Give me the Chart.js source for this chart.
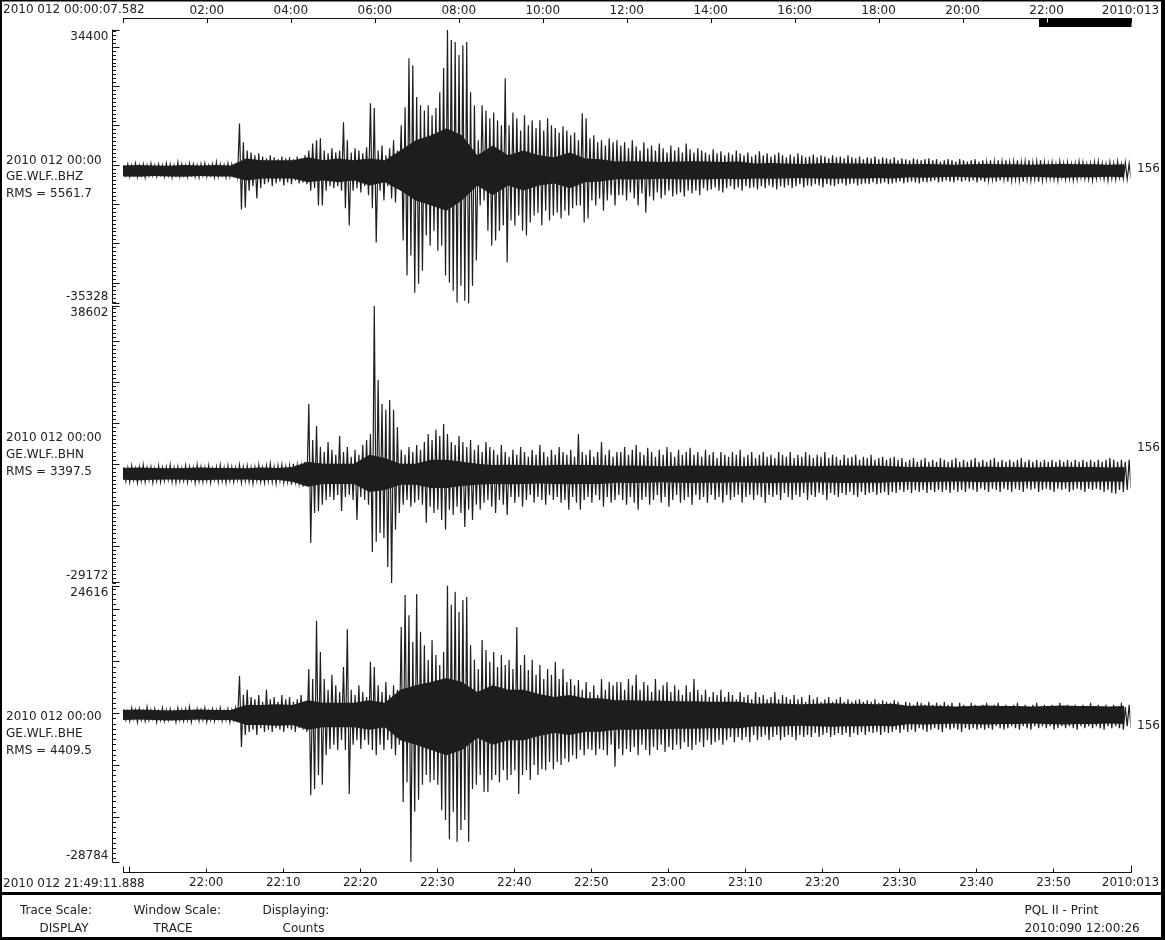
<!DOCTYPE html>
<html><head><meta charset="utf-8">
<script src="https://cdn.jsdelivr.net/npm/chart.js@4.4.0/dist/chart.umd.min.js"></script>
<style>
html,body{margin:0;padding:0;background:#fff;}
#wrap{position:relative;width:1165px;height:940px;overflow:hidden;font-family:'DejaVu Sans',sans-serif;font-size:12px;color:#222;}
#c{position:absolute;left:0;top:0;}
.t{position:absolute;white-space:nowrap;line-height:14px;}
</style></head><body>
<div id="wrap">
<canvas id="c" width="1165" height="940"></canvas>
<div class="t" style="left:3px;top:2px">2010 012 00:00:07.582</div>
<div class="t" style="left:3px;top:875.5px">2010 012 21:49:11.888</div>
<div class="t" style="left:6px;top:152.5px">2010 012 00:00</div>
<div class="t" style="left:6px;top:169px">GE.WLF..BHZ</div>
<div class="t" style="left:6px;top:185.5px">RMS = 5561.7</div>
<div class="t" style="left:6px;top:430px">2010 012 00:00</div>
<div class="t" style="left:6px;top:447px">GE.WLF..BHN</div>
<div class="t" style="left:6px;top:463.5px">RMS = 3397.5</div>
<div class="t" style="left:6px;top:709px">2010 012 00:00</div>
<div class="t" style="left:6px;top:726px">GE.WLF..BHE</div>
<div class="t" style="left:6px;top:742.5px">RMS = 4409.5</div>
<div class="t" style="left:1137px;top:161px">156</div>
<div class="t" style="left:1137px;top:440px">156</div>
<div class="t" style="left:1137px;top:718px">156</div>
<div class="t" style="left:20px;top:903px">Trace Scale:</div>
<div class="t" style="left:39.5px;top:920.5px">DISPLAY</div>
<div class="t" style="left:133.5px;top:903px">Window Scale:</div>
<div class="t" style="left:153.5px;top:920.5px">TRACE</div>
<div class="t" style="left:262.5px;top:903px">Displaying:</div>
<div class="t" style="left:282.5px;top:920.5px">Counts</div>
<div class="t" style="left:1024.5px;top:903px">PQL II - Print</div>
<div class="t" style="left:1024.5px;top:920.5px">2010:090 12:00:26</div>
</div>
<script>
// ---- time base (minutes since 2010 012 00:00) ----
const startMinute = 1309.198;   // 21:49:11.888
const endMinute = 1440;         // 2010:013 00:00
const dayStartMinute = 0.12637; // 00:00:07.582
const binMinutes = 0.5;         // peak bins: one positive and one negative peak each
const coreMinutes = 2;          // dense-core envelope sampling

// ---- tick values and labels ----
const bottomTicks = [1320,1330,1340,1350,1360,1370,1380,1390,1400,1410,1420,1430,1440];
const bottomTickLabels = ['22:00','22:10','22:20','22:30','22:40','22:50','23:00','23:10','23:20','23:30','23:40','23:50','2010:013'];
const bottomMinorTicks = [1310];
const topTicks = [120,240,360,480,600,720,840,960,1080,1200,1320,1440];
const topTickLabels = ['02:00','04:00','06:00','08:00','10:00','12:00','14:00','16:00','18:00','20:00','22:00','2010:013'];

// ---- panel ranges (counts) ----
const panelMax = [34400, 38602, 24616];
const panelMin = [-35328, -29172, -28784];

// ---- GE.WLF..BHZ peaks (counts) ----
const bhzMax = [
-200,100,-200,300,-200,100,-200,300,-200,100,
-200,300,100,-200,600,100,-200,300,100,-200,
100,300,-200,100,600,100,-200,300,100,-200,
10500,5700,3600,3100,2400,2900,2100,1600,2400,1900,
1400,2100,1600,1900,1400,2100,1600,2400,3600,5400,
6200,6700,3600,2900,4200,3100,3600,10800,6200,3100,
4200,3600,2900,4400,15600,14400,3600,4900,2400,4200,
6200,3600,10000,14600,27100,25300,17200,15100,13800,15100,
12600,14400,18400,24600,34300,31700,31200,27900,30400,31200,
18400,15100,6200,15100,13800,11800,13300,11300,10000,22000,
10000,13300,11800,8700,12600,10000,11300,9300,11300,8700,
11800,10000,9300,8200,9800,8700,7500,8200,6200,13100,
11800,6700,7500,5700,6200,4900,6700,5700,6200,4900,
5700,4200,6200,4700,3600,5700,4200,4900,3600,5400,
4200,3100,4900,3600,4400,3100,5400,3900,3100,4200,
3600,3100,2600,3900,2900,3400,2400,3100,2600,3600,
2900,2400,3100,2100,2600,3400,2400,2900,2100,2600,
3100,2400,1900,2600,2100,2900,2400,1900,2100,2600,
1900,2400,2100,1600,2400,1900,2100,1600,2400,1900,
1600,2100,1400,1900,1600,2100,1400,1900,1600,1400,
1900,1100,1600,1400,1100,1600,1400,1100,1400,1600,
1100,1400,800,1100,1400,1100,800,1400,1100,800,
1100,1400,800,1100,600,1100,800,1100,800,1100,
600,800,1100,600,800,1100,600,800,1100,600,
300,600,100,800,300,600,100,300,800,600,
100,300,600,800,300,100,600,300,800,100,600,300];
const bhzMin = [
-2700,-3000,-2500,-3000,-2700,-3200,-2700,-2700,-3000,-2500,
-3000,-2700,-3200,-2700,-3000,-2700,-3000,-2500,-3000,-3200,
-2700,-3000,-2700,-3200,-3000,-2700,-3200,-3000,-2700,-3000,
-11400,-10900,-6600,-5500,-8600,-6000,-5000,-4500,-5500,-4800,
-4300,-5300,-4500,-5000,-4000,-4800,-4500,-5000,-6600,-6000,
-10400,-10400,-6600,-5500,-6000,-5500,-6600,-11100,-15500,-6600,
-6000,-7100,-5500,-7800,-11100,-19800,-6600,-9100,-5500,-8600,
-9600,-6000,-19300,-28200,-23100,-32600,-30300,-27000,-18000,-20600,
-16800,-21900,-20600,-28200,-30000,-32100,-35100,-30800,-34600,-35300,
-30800,-24400,-10400,-9100,-16800,-20600,-19300,-16800,-15500,-24900,
-14200,-15500,-12900,-16800,-18000,-14700,-12900,-12200,-15500,-11700,
-14200,-12900,-12200,-13700,-11700,-12900,-11100,-10400,-10400,-14700,
-13700,-9100,-10400,-8600,-11700,-9100,-7800,-10400,-7800,-7800,
-9100,-7100,-8600,-10400,-7300,-12200,-8100,-9100,-7100,-8600,
-7800,-6600,-8100,-7600,-7100,-8100,-6600,-7300,-6600,-7800,
-6000,-6600,-6300,-5800,-6600,-7100,-6000,-5500,-6300,-5800,
-6600,-5500,-6000,-5800,-6300,-5500,-6000,-5300,-5800,-6300,
-5500,-5800,-5300,-6000,-5500,-5000,-5800,-5300,-5500,-5000,
-5300,-5800,-5000,-5300,-5500,-5000,-4800,-5300,-5000,-4800,
-5300,-5000,-4800,-5000,-4500,-5000,-4800,-4500,-5000,-4800,
-4500,-4300,-4800,-4500,-4300,-4500,-4800,-4300,-4500,-4300,
-4000,-4500,-4300,-4000,-4300,-4500,-4000,-4300,-4000,-4300,
-4000,-4500,-4000,-4300,-4000,-3700,-4300,-4000,-3700,-4300,
-4000,-3700,-4000,-4300,-3700,-4000,-3700,-4300,-4000,-3700,
-3500,-3700,-4000,-3200,-3700,-3500,-4000,-3700,-3200,-3500,
-3700,-4000,-3500,-3200,-3700,-4000,-3500,-3700,-3200,-3500,-3700,-3500];
// solid (dense) core of BHZ, every 2 min
const bhzCoreUp = [
-200,-100,-200,-300,-100,-200,-100,-200,
1600,1100,1100,1100,
1900,1100,1600,1100,1600,1100,
3600,6200,7500,9300,7500,2400,
4900,2400,3600,2400,1900,3100,1600,1400,
800,900,800,700,800,900,800,700,800,
300,400,300,200,300,400,300,300,200,300,
100,200,100,0,100,200,100,100,0,100,200,100,100,0,100];
const bhzCoreDn = [
-3000,-3100,-2900,-3000,-3100,-2900,-3000,-3000,
-4000,-3500,-3500,-3500,
-4500,-4000,-4500,-4000,-5300,-4500,
-6600,-9100,-10400,-11700,-9100,-5300,
-7800,-5300,-6600,-5300,-4800,-6000,-4500,-4300,
-3700,-3800,-3700,-3600,-3700,-3800,-3700,-3600,-3700,
-3500,-3600,-3500,-3400,-3500,-3600,-3500,-3500,-3400,-3500,
-3200,-3300,-3200,-3100,-3200,-3300,-3200,-3200,-3100,-3200,-3300,-3200,-3200,-3100,-3200];

// ---- GE.WLF..BHN peaks (counts) ----
const bhnMax = [
-800,-1000,-500,-1200,-800,-300,-1000,-800,-1200,-500,
-1000,-800,-300,-1000,-800,-1200,-500,-800,-1000,-300,
-800,-1000,-500,-1200,-800,-300,-1000,-500,-800,-1000,
-300,-800,-500,-1000,-800,-300,-1000,-500,0,-800,
-500,-300,-800,-500,0,-300,-500,500,14600,5800,
9200,4100,2900,5300,3400,2200,6800,2900,4100,1700,
3400,2200,4600,5800,7300,38500,20500,14600,13200,15600,
13200,9000,3400,2200,4100,2900,4600,3400,5300,7300,
5800,8300,6800,9700,7300,5300,4600,6800,5300,4100,
5800,3400,4600,2900,5300,4100,3400,2200,4600,2900,
1700,3400,2200,4100,2900,1700,3400,2200,4600,2900,
1700,3400,2200,4100,2900,2200,3400,1700,7300,2900,
2200,3400,1700,2900,5300,2200,3400,1700,2900,2900,
4100,2200,3400,4600,2900,2200,3900,2900,1700,3400,
2200,4100,2900,1700,3400,2200,2900,3900,2200,2900,
1700,3400,2200,2900,1400,2900,2200,1700,2900,2200,
3400,1700,2200,2900,1400,2200,2900,1700,2200,1400,
2900,2200,1700,2900,1400,2200,1700,2900,2200,1400,
2200,1700,2900,1400,2200,1700,1000,2200,1400,1700,
2200,1000,1700,1400,2200,1000,1400,1700,1000,1400,
1700,1000,1400,500,1000,1400,500,1000,1400,500,
1000,500,1400,1000,500,1000,1400,500,1000,500,
1000,1400,500,1000,500,1000,1400,500,1000,500,
1000,500,1000,1400,500,1000,500,1000,500,1000,
500,1000,500,1000,500,1000,500,1000,500,1000,
500,1000,500,1000,500,1000,1400,1000,500,1000,500,1000];
const bhnMin = [
-4200,-4400,-3900,-4600,-4100,-4400,-3900,-4600,-4200,-4400,
-4100,-3900,-4400,-4600,-4200,-4100,-4400,-3900,-4600,-4200,
-4400,-4100,-4600,-3900,-4400,-4200,-4600,-4100,-4400,-3900,
-4600,-4200,-4400,-4800,-4100,-4400,-4600,-4200,-4400,-4800,
-4100,-4600,-4400,-5100,-4400,-4800,-5600,-5100,-19300,-12000,
-11500,-10000,-8800,-8100,-8800,-7600,-11500,-8100,-7600,-8800,
-13700,-8100,-8800,-10000,-21500,-19000,-16900,-18100,-25200,-29100,
-16100,-12000,-10000,-8800,-10500,-9500,-8800,-10000,-14400,-10500,
-12000,-11200,-13700,-16100,-11200,-12500,-10500,-12000,-15400,-11200,
-13700,-10000,-11200,-9500,-8800,-10500,-12000,-8800,-10000,-12500,
-8100,-9500,-8100,-10500,-8800,-7600,-9500,-8100,-8800,-10000,
-7600,-8800,-8100,-9500,-8800,-11200,-8100,-9500,-11200,-8800,
-8100,-9500,-7600,-8800,-10500,-8100,-9500,-8800,-7600,-8800,
-10000,-8100,-9500,-11200,-8800,-8100,-10000,-8800,-7600,-9500,
-8100,-10500,-8800,-7600,-9500,-8800,-8100,-10000,-7600,-8800,
-8100,-9500,-7600,-8800,-8100,-9500,-7600,-8800,-8100,-7600,
-9500,-8100,-7600,-8800,-7600,-8100,-9500,-7600,-8100,-7600,
-8800,-7100,-8100,-8800,-7600,-8100,-7100,-8800,-7600,-8100,
-7100,-7600,-8800,-7100,-7600,-8100,-7100,-7600,-6900,-7600,
-8100,-6900,-7600,-7100,-6900,-7600,-7100,-6900,-7600,-6900,
-7100,-6400,-6900,-6400,-7100,-6400,-6900,-6400,-7100,-6400,
-6900,-6400,-6900,-6400,-7100,-6400,-6900,-6400,-6900,-6100,
-6400,-6900,-6100,-6400,-6900,-6100,-6400,-6900,-6100,-6400,
-6900,-6100,-6400,-6900,-6100,-6400,-6100,-6900,-6400,-6100,
-6400,-6900,-6100,-6400,-6100,-6900,-6400,-6100,-6400,-6900,
-6100,-6400,-6100,-6400,-6900,-6400,-7100,-7300,-6400,-6900,-6400,-6100];
const bhnCoreUp = [
-1000,-900,-1000,-1100,-1000,-900,-1000,-1000,-1100,-900,-1000,
-800,
500,0,0,0,2200,1400,0,0,1000,1000,500,0,
-300,-200,-300,-400,-300,-200,-300,-300,
-500,-400,-500,-600,-500,-400,-500,-500,-600,-500,-400,-500,-500,-600,-500,-400,-500,-500,-600,
-800,-700,-800,-900,-800,-700,-800,-800,-900,-800,-700,-800,-800,-900,-800];
const bhnCoreDn = [
-3900,-4000,-3900,-3800,-3900,-4000,-3900,-3900,-3800,-4000,-3900,
-4400,
-5600,-4900,-4900,-4900,-6900,-6400,-5100,-5100,-5900,-5900,-5400,-5100,
-4900,-5000,-4900,-4800,-4900,-5000,-4900,-4900,
-4600,-4700,-4600,-4500,-4600,-4700,-4600,-4600,-4500,-4600,-4700,-4600,-4600,-4500,-4600,-4700,-4600,-4600,-4500,
-4400,-4500,-4400,-4300,-4400,-4500,-4400,-4400,-4300,-4400,-4500,-4400,-4400,-4300,-4400];

// ---- GE.WLF..BHE peaks (counts) ----
const bheMax = [
800,400,1000,600,800,400,1200,600,800,400,
1000,600,800,400,1000,600,800,1200,400,800,
600,1000,400,800,600,1000,400,800,600,1000,
7200,3500,4500,3100,2700,3500,2200,4500,2700,3100,
2200,3500,2700,3100,2200,2700,3500,2200,8500,6600,
17800,11800,6600,4500,7400,5400,4100,8900,16200,4500,
3500,5400,4100,3100,9900,8900,5400,4100,6000,3500,
5400,4500,16600,22800,18900,13700,23000,15700,13100,10300,
14100,11200,9300,11800,24600,20900,23400,19500,21800,22400,
13100,10300,8500,14100,12200,9900,11800,8900,11200,9300,
10300,8500,16600,9300,11200,8300,10300,7400,9300,6600,
8500,7400,9900,6600,8500,6000,6600,5400,6400,4500,
6000,4100,5400,3500,6600,4500,6000,5400,6000,6000,
4500,6600,5400,7400,4500,6000,5400,4100,6600,4500,
5400,6000,4100,5400,4500,3500,5400,4100,6600,4500,
3500,4500,3100,4100,3500,4500,3100,4100,3500,2700,
4100,3100,3500,2700,4100,3100,3500,2700,3100,4100,
2700,3500,3100,2700,3500,2700,3100,2200,3500,2700,
3100,2200,2700,3100,2200,2700,3100,2200,2700,2200,
2500,2700,2200,2500,2200,2700,2000,2500,2200,2000,
2500,2200,1600,2200,2000,1600,2200,2000,1600,2200,
1600,2000,1600,2200,1600,2000,1200,2000,1600,1200,
2000,1600,1200,1600,2000,1200,1600,2000,1200,1600,
1200,1600,2000,1200,1600,1200,1600,2000,1200,1600,
1200,1600,1200,2000,1200,1600,1200,1600,1200,1600,
1200,2000,1200,1600,1200,1600,1200,1600,1200,2000,1200,1600];
const bheMin = [
-1300,-1500,-1100,-1700,-1300,-1500,-1300,-1100,-1700,-1300,
-1500,-1300,-1100,-1700,-1300,-1500,-1300,-1700,-1100,-1500,
-1300,-1700,-1300,-1500,-1100,-1500,-1300,-1700,-1300,-1500,
-6500,-4200,-3600,-3200,-4200,-2900,-3600,-3200,-3600,-2900,
-3200,-3600,-2900,-3200,-3600,-2900,-3200,-3600,-15800,-14600,
-11900,-13800,-8100,-6900,-6100,-7100,-5200,-7100,-15600,-6100,
-5200,-6900,-5200,-6100,-7100,-8100,-6100,-7100,-5200,-6900,
-8100,-6100,-17100,-13300,-28700,-19000,-16700,-13800,-11900,-13300,
-12900,-13800,-18700,-20600,-24300,-19000,-24800,-22500,-20600,-24800,
-14600,-13800,-11900,-15200,-15200,-12900,-11900,-13300,-11000,-12900,
-11900,-11000,-15600,-11900,-11000,-12900,-10000,-11900,-10800,-11000,
-9400,-10800,-9400,-10000,-8800,-9400,-8100,-8800,-7100,-8100,
-6900,-7100,-8100,-6900,-7100,-8100,-6100,-10300,-6900,-8100,
-6900,-7500,-6500,-8100,-6100,-7100,-8100,-6500,-7100,-6100,
-7500,-6500,-7100,-6100,-6900,-5600,-6500,-7100,-6100,-5600,
-6500,-5200,-6100,-5600,-5200,-6100,-5200,-4600,-5600,-4600,
-5200,-4600,-5600,-4200,-5200,-4600,-4200,-5200,-4600,-4200,
-5200,-4600,-4200,-4600,-5200,-4200,-4600,-4200,-4600,-3800,
-4600,-4200,-3800,-4600,-4200,-3800,-4200,-3800,-4600,-3800,
-4200,-3600,-4200,-3600,-3800,-3600,-4200,-3600,-3800,-3600,
-3200,-3800,-3200,-3600,-3200,-3600,-2900,-3200,-3600,-3200,
-2900,-3200,-3600,-2900,-3200,-2900,-3200,-3600,-2900,-3200,
-2900,-3200,-2900,-3200,-2900,-3200,-2500,-2900,-3200,-2900,
-2500,-2900,-3200,-2500,-2900,-3200,-2500,-2900,-2500,-2900,
-2500,-3200,-2900,-2500,-2900,-2500,-2900,-3200,-2500,-2900,
-2500,-2900,-2500,-2900,-3200,-2500,-2900,-2500,-2900,-3200,-2500,-2900];
const bheCoreUp = [
600,700,600,500,600,700,600,600,
1600,1600,1700,1600,
2500,2000,2000,2000,2500,2000,
4500,5400,6000,6800,6000,4100,5400,4500,4500,3700,3100,3500,2900,2900,
2500,2500,2400,2400,2300,2300,2200,2200,2200,
1800,1900,1800,1700,1800,1900,1800,1800,1700,1800,
1400,1500,1400,1300,1400,1500,1400,1400,1300,1400,1500,1400,1400,1300,1400];
const bheCoreDn = [
-1300,-1200,-1300,-1400,-1300,-1200,-1300,-1300,
-2300,-2300,-2400,-2300,
-3200,-2700,-2700,-2700,-3200,-2700,
-5200,-6100,-7100,-8100,-7100,-4800,-6100,-5200,-5200,-4400,-3800,-4200,-3600,-3600,
-3200,-3200,-3100,-3100,-3000,-3000,-2900,-2900,-2900,
-2500,-2600,-2500,-2400,-2500,-2600,-2500,-2500,-2400,-2500,
-2100,-2200,-2100,-2000,-2100,-2200,-2100,-2100,-2000,-2100,-2200,-2100,-2100,-2000,-2100];

// alternating peak points (max then min inside each bin)
function peaks(maxArr, minArr) {
  const pts = [];
  for (let i = 0; i < maxArr.length; i++) {
    const t = startMinute + i * binMinutes;
    pts.push({x: t + binMinutes * 0.25, y: maxArr[i]});
    pts.push({x: t + binMinutes * 0.75, y: minArr[i]});
  }
  return pts;
}
function series(arr, step) {
  return arr.map((v, k) => ({x: Math.min(startMinute + k * step, endMinute), y: v}));
}

const FONT = {family: "'DejaVu Sans', sans-serif", size: 12};
const INK = '#222';
const TRACE = '#1e1e1e';

const seisAxes = {
  id: 'seisAxes',
  afterDraw(chart) {
    const ctx = chart.ctx;
    const xb = chart.scales.x, xt = chart.scales.x2;
    ctx.save();
    ctx.fillStyle = '#000';
    ctx.fillRect(0, 0, 1165, 1.5);
    ctx.fillRect(0, 0, 2, 940);
    ctx.fillRect(1161, 0, 4, 940);
    ctx.fillRect(0, 937, 1165, 3);
    ctx.fillRect(0, 892, 1165, 3);
    ctx.strokeStyle = '#111';
    ctx.lineWidth = 1;
    const seg = (x1, y1, x2, y2) => { ctx.beginPath(); ctx.moveTo(x1, y1); ctx.lineTo(x2, y2); ctx.stroke(); };
    const px = v => Math.round(v) + 0.5;

    // top (day) axis
    const ty = 18.5;
    seg(xt.getPixelForValue(xt.min), ty, xt.getPixelForValue(xt.max) + 1, ty);
    [xt.min].concat(topTicks).forEach(v => { const x = px(xt.getPixelForValue(v)); seg(x, ty, x, ty + 4.5); });
    const b0 = xt.getPixelForValue(startMinute), b1 = xt.getPixelForValue(endMinute);
    ctx.fillStyle = '#000';
    ctx.fillRect(b0, ty - 0.5, b1 - b0 + 1, 9);
    ctx.strokeStyle = '#fff';
    topTicks.forEach(v => { if (v >= startMinute && v < endMinute) { const x = px(xt.getPixelForValue(v)); seg(x, ty, x, ty + 4); } });
    ctx.strokeStyle = '#111';

    // bottom (time) axis
    const by = 872.5;
    seg(xb.getPixelForValue(xb.min), by, xb.getPixelForValue(xb.max) + 1, by);
    bottomTicks.forEach((v, i) => { const x = px(xb.getPixelForValue(v)); seg(x, by, x, by - (i === bottomTicks.length - 1 ? 7 : 4)); });
    [xb.min].concat(bottomMinorTicks).forEach(v => { const x = px(xb.getPixelForValue(v)); seg(x, by, x, by - 6); });

    // stacked amplitude axes
    ['yZ', 'yN', 'yE'].forEach((id, k) => {
      const s = chart.scales[id];
      const ax = 112.5;
      seg(ax, s.top, ax, s.bottom);
      for (let v = Math.ceil(panelMin[k] / 1000) * 1000; v <= panelMax[k]; v += 1000) {
        const y = px(s.getPixelForValue(v));
        seg(ax, y, ax + (v % 10000 === 0 ? 7 : 3.5), y);
      }
      seg(ax, px(s.getPixelForValue(panelMax[k])), ax + 7, px(s.getPixelForValue(panelMax[k])));
      seg(ax, px(s.getPixelForValue(panelMin[k])) - 1, ax + 7, px(s.getPixelForValue(panelMin[k])) - 1);
      ctx.fillStyle = INK;
      ctx.font = "12px 'DejaVu Sans', sans-serif";
      ctx.textAlign = 'right';
      ctx.textBaseline = 'middle';
      ctx.fillText(String(panelMax[k]), 108.5, s.getPixelForValue(panelMax[k]) + 7);
      ctx.fillText(String(panelMin[k]), 108.5, s.getPixelForValue(panelMin[k]) - 7);
    });
    ctx.restore();
  }
};

const yAxis = (min, max, stackWeight, weight) => ({
  type: 'linear', position: 'left', stack: 'traces', stackWeight, weight, min, max,
  ticks: {display: false}, grid: {display: false, drawTicks: false}, border: {display: false},
  afterFit: s => { s.width = 123; }
});

const traceSet = (label, data, axis) => ({label, data, yAxisID: axis, borderColor: TRACE, backgroundColor: TRACE, borderWidth: 1.2, pointRadius: 0, tension: 0, fill: false});
const coreSet = (data, axis, fill) => ({data, yAxisID: axis, borderColor: TRACE, backgroundColor: TRACE, borderWidth: 0, pointRadius: 0, tension: 0, fill});

new Chart(document.getElementById('c'), {
  type: 'line',
  data: {datasets: [
    traceSet('GE.WLF..BHZ', peaks(bhzMax, bhzMin), 'yZ'),
    traceSet('GE.WLF..BHN', peaks(bhnMax, bhnMin), 'yN'),
    traceSet('GE.WLF..BHE', peaks(bheMax, bheMin), 'yE'),
    coreSet(series(bhzCoreUp, coreMinutes), 'yZ', '+1'),
    coreSet(series(bhzCoreDn, coreMinutes), 'yZ', false),
    coreSet(series(bhnCoreUp, coreMinutes), 'yN', '+1'),
    coreSet(series(bhnCoreDn, coreMinutes), 'yN', false),
    coreSet(series(bheCoreUp, coreMinutes), 'yE', '+1'),
    coreSet(series(bheCoreDn, coreMinutes), 'yE', false)
  ]},
  options: {
    responsive: false, animation: false, devicePixelRatio: 1,
    parsing: false, normalized: true, events: [],
    plugins: {legend: {display: false}, tooltip: {enabled: false}, colors: {enabled: false}},
    layout: {padding: {left: 0, right: 34.5, top: 0, bottom: 0}},
    scales: {
      x: {
        type: 'linear', position: 'bottom', min: startMinute, max: endMinute,
        afterBuildTicks: s => { s.ticks = bottomTicks.map(v => ({value: v})); },
        ticks: {callback: (v, i) => bottomTickLabels[i], autoSkip: false, maxRotation: 0, padding: 13.5, font: FONT, color: INK},
        grid: {display: false, drawTicks: false}, border: {display: false},
        afterFit: s => { s.height = 77.5; s.paddingLeft = 0; s.paddingRight = 0; }
      },
      x2: {
        type: 'linear', position: 'top', min: dayStartMinute, max: endMinute,
        afterBuildTicks: s => { s.ticks = topTicks.map(v => ({value: v})); },
        ticks: {callback: (v, i) => topTickLabels[i], autoSkip: false, maxRotation: 0, padding: 11, font: FONT, color: INK},
        grid: {display: false, drawTicks: false}, border: {display: false},
        afterFit: s => { s.height = 29.5; s.paddingLeft = 0; s.paddingRight = 0; }
      },
      yZ: yAxis(panelMin[0], panelMax[0], 274, 5),
      g1: yAxis(0, 1, 2.2, 4),
      yN: yAxis(panelMin[1], panelMax[1], 277.6, 3),
      g2: yAxis(0, 1, 2.2, 2),
      yE: yAxis(panelMin[2], panelMax[2], 277, 1)
    }
  },
  plugins: [seisAxes]
});
</script>
</body></html>
